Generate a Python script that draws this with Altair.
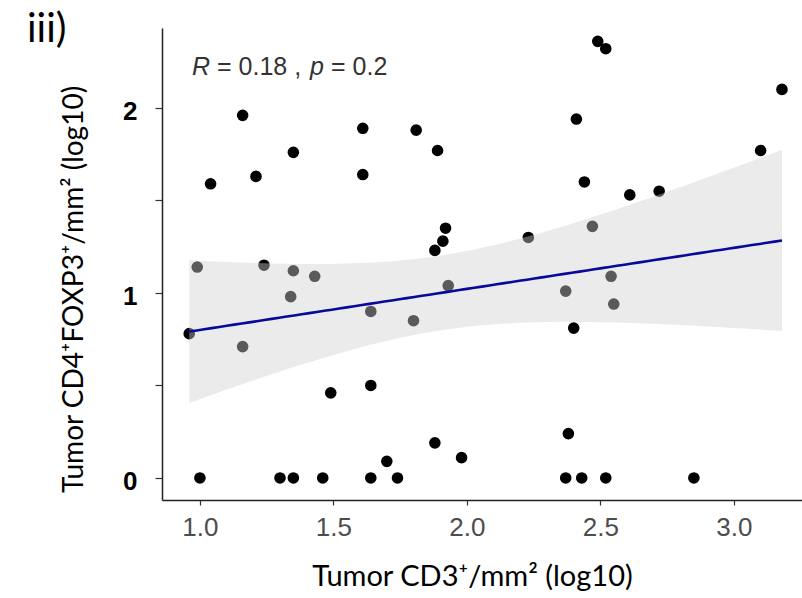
import numpy as np
import pandas as pd
import altair as alt

# CD3+ density (log10) of each tumour
cd3 = [1.16, 1.35, 1.04, 1.21, 1.61, 1.81, 1.89, 1.61, 1.92, 1.91, 1.88,
       2.49, 2.52, 2.41, 2.44, 2.61, 2.23, 2.47, 3.18, 3.10, 2.72,
       0.99, 1.24, 1.35, 1.43, 1.34, 0.96, 1.16,
       1.00, 1.30, 1.35, 1.46,
       1.64, 1.80, 1.93, 1.49, 1.64, 1.88, 1.98, 1.70, 1.64, 1.74,
       2.37, 2.54, 2.55, 2.40, 2.38, 2.37, 2.43, 2.52, 2.85]
# CD4+FOXP3+ density (log10) of each tumour
foxp3 = [1.96, 1.76, 1.59, 1.63, 1.89, 1.88, 1.77, 1.64, 1.35, 1.28, 1.23,
         2.36, 2.32, 1.94, 1.60, 1.53, 1.30, 1.36, 2.10, 1.77, 1.55,
         1.14, 1.15, 1.12, 1.09, 0.98, 0.78, 0.71,
         0.00, 0.00, 0.00, 0.00,
         0.90, 0.85, 1.04, 0.46, 0.50, 0.19, 0.11, 0.09, 0.00, 0.00,
         1.01, 1.09, 0.94, 0.81, 0.24, 0.00, 0.00, 0.00, 0.00]

x_ticks = [1.0, 1.5, 2.0, 2.5, 3.0]
y_ticks = [0, 0.5, 1, 1.5, 2]

df = pd.DataFrame({"x": cd3, "y": foxp3})

# linear fit with 95% confidence band
xa = np.array(cd3)
ya = np.array(foxp3)
n = len(xa)
xbar, ybar = xa.mean(), ya.mean()
sxx = ((xa - xbar) ** 2).sum()
b = ((xa - xbar) * (ya - ybar)).sum() / sxx
a = ybar - b * xbar
s = np.sqrt(((ya - (a + b * xa)) ** 2).sum() / (n - 2))
t = 2.0096
g = np.linspace(xa.min(), xa.max(), 80)
f = a + b * g
se = s * np.sqrt(1.0 / n + (g - xbar) ** 2 / sxx)
fit = pd.DataFrame({"x": g, "fit": f, "lo": f - t * se, "hi": f + t * se})

xs = alt.Scale(domain=[0.858, 3.255], nice=False, zero=False)
ys = alt.Scale(domain=[-0.119, 2.432], nice=False, zero=False)

xaxis = alt.Axis(values=x_ticks, format=".1f", grid=False,
                 domainColor="#222222", domainWidth=1.5,
                 tickColor="#333333", tickSize=5, tickWidth=1.2,
                 labelFont="Liberation Sans", labelFontSize=26,
                 labelColor="#4d4d4d", labelPadding=9,
                 title="Tumor CD3⁺/mm² (log10)", titleFont="Lato",
                 titleFontSize=29, titleFontWeight="normal", titleColor="black",
                 titleX=310, titleY=85, titleBaseline="alphabetic",
                 titleAlign="center")
yaxis = alt.Axis(values=y_ticks,
                 labelExpr="datum.value % 1 == 0 ? format(datum.value, 'd') : ''",
                 grid=False, domainColor="#222222", domainWidth=1.5,
                 tickColor="#333333", tickSize=7, tickWidth=1.2,
                 labelFont="Liberation Sans", labelFontSize=26,
                 labelFontWeight="bold", labelColor="black",
                 labelPadding=18, labelOffset=4,
                 title="Tumor CD4⁺FOXP3⁺/mm² (log10)", titleFont="Lato",
                 titleFontSize=28, titleFontWeight="normal", titleColor="black",
                 titleX=-80, titleY=261, titleBaseline="alphabetic",
                 titleAlign="center", titleAngle=270)

points = alt.Chart(df).mark_circle(size=135, color="black", opacity=1).encode(
    x=alt.X("x:Q", scale=xs, axis=xaxis),
    y=alt.Y("y:Q", scale=ys, axis=yaxis),
)
band = alt.Chart(fit).mark_area(color="#d0d0d0", opacity=0.43).encode(
    x=alt.X("x:Q", scale=xs, axis=xaxis),
    y=alt.Y("lo:Q", scale=ys, axis=yaxis),
    y2="hi:Q",
)
line = alt.Chart(fit).mark_line(color="#08089a", strokeWidth=2.6).encode(
    x=alt.X("x:Q", scale=xs, axis=xaxis),
    y=alt.Y("fit:Q", scale=ys, axis=yaxis),
)


def txt(s, px, py, size, style="normal", color="#333333", font="Liberation Sans"):
    return alt.Chart(pd.DataFrame({"t": [s]})).mark_text(
        align="left", baseline="alphabetic", fontSize=size, fontStyle=style,
        font=font, color=color,
    ).encode(x=alt.value(px), y=alt.value(py), text="t:N")


ann = [
    txt("R", 30, 47, 25, "italic"),
    txt("= 0.18 ,", 55, 47, 25),
    txt("p", 148, 47, 25, "italic"),
    txt("= 0.2", 169, 47, 25),
    txt("iii)", -135, 14, 40, color="black", font="Lato"),
]

chart = alt.layer(points, band, line, *ann).properties(
    width=640, height=472,
    autosize=alt.AutoSizeParams(type="none"),
    padding={"left": 162, "top": 28, "right": 0, "bottom": 98},
    background="white",
).configure_view(stroke=None)

chart.save("out.html", embed_options={"renderer": "svg", "actions": False})
